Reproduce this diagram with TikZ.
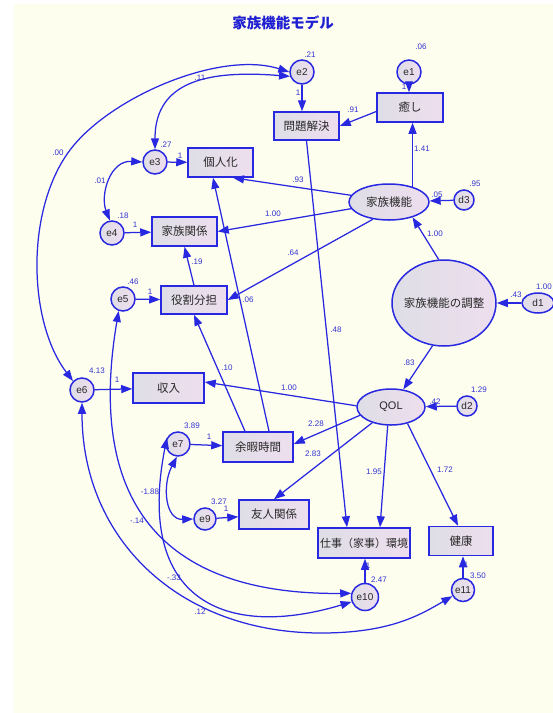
\documentclass[tikz,border=0pt]{standalone}
\usepackage{fontspec}
\setmainfont{Liberation Sans}
\newfontfamily\jpf{Noto Sans CJK JP}
\usetikzlibrary{arrows.meta,shapes.geometric}
\definecolor{bgc}{RGB}{254,254,238}
\definecolor{bl}{RGB}{40,40,225}
\definecolor{lbc}{RGB}{50,50,210}
\definecolor{ttl}{RGB}{30,30,210}
\definecolor{nL}{RGB}{222,222,230}
\definecolor{nR}{RGB}{238,222,238}
\definecolor{txt}{RGB}{40,40,40}
\newcommand{\mylab}[3]{\node[lab] (#1) at (#2) {#3};}
\begin{document}
\begin{tikzpicture}[x=1pt,y=-1pt,
  >={Triangle[length=11pt,width=8pt]},
  box/.style={rectangle,draw=bl,line width=1.5pt,left color=nL,right color=nR,minimum height=29pt,inner sep=0pt,text=txt,font=\jpf\fontsize{11.5}{13}\selectfont},
  errc/.style={circle,draw=bl,line width=1.5pt,left color=nL,right color=nR,minimum size=24pt,inner sep=0pt,text=txt,font=\fontsize{10}{12}\selectfont},
  lat/.style={ellipse,draw=bl,line width=1.5pt,left color=nL,right color=nR,inner sep=0pt,text=txt,font=\jpf\fontsize{11.5}{13}\selectfont},
  pth/.style={draw=bl,line width=1.25pt,->},
  cov/.style={draw=bl,line width=1.25pt,<->},
  lab/.style={text=lbc,font=\fontsize{8}{9}\selectfont,inner sep=0pt},
]
\useasboundingbox (0,0) rectangle (553,713);
\fill[white] (0,0) rectangle (553,713);
\fill[bgc] (14,4) rectangle (553,713);

\node[font=\jpf\bfseries\fontsize{14.5}{16}\selectfont,text=ttl] (title) at (283,23) {家族機能モデル};

% nodes
\node[errc] (e1) at (409,72) {e1};
\node[box,minimum width=66pt] (iyashi) at (410,107.5) {癒し};
\node[errc] (e2) at (302,72) {e2};
\node[box,minimum width=65pt,minimum height=28pt] (mondai) at (306.5,126) {問題解決};
\node[errc] (e3) at (155,162) {e3};
\node[box,minimum width=65pt] (kojin) at (220.5,162.5) {個人化};
\node[errc] (e4) at (112,233) {e4};
\node[box,minimum width=65pt] (kk) at (184.5,231.5) {家族関係};
\node[errc] (e5) at (123,299) {e5};
\node[box,minimum width=66pt,minimum height=28pt] (yaku) at (194,300) {役割分担};
\node[lat,minimum width=80pt,minimum height=36pt] (kazoku) at (389,202) {家族機能};
\node[errc,minimum size=20pt] (d3) at (464,200) {d3};
\node[lat,minimum width=104pt,minimum height=86pt] (chosei) at (444,303) {\makebox[0pt]{家族機能の調整}};
\node[lat,minimum width=32pt,minimum height=20pt,font=\fontsize{10}{12}\selectfont] (d1) at (538,303) {d1};
\node[errc] (e6) at (82,390) {e6};
\node[box,minimum width=71pt,minimum height=30pt] (shunyu) at (168.5,388) {収入};
\node[lat,minimum width=68pt,minimum height=36pt,font=\fontsize{11}{13}\selectfont] (qol) at (391,407) {QOL};
\node[errc,minimum size=20pt] (d2) at (467,406) {d2};
\node[errc] (e7) at (178,444) {e7};
\node[box,minimum width=70pt,minimum height=30pt] (yoka) at (258,447) {余暇時間};
\node[errc,minimum size=22pt] (e9) at (205,519) {e9};
\node[box,minimum width=70pt] (yujin) at (274,514.5) {友人関係};
\node[box,minimum width=92pt,minimum height=30pt,font=\jpf\fontsize{11}{13}\selectfont] (shigoto) at (364,543) {仕事（家事）環境};
\node[box,minimum width=64pt] (kenko) at (461,541) {健康};
\node[errc,minimum size=27pt] (e10) at (365,597) {e10};
\node[errc,minimum size=23pt] (e11) at (463,590) {e11};

% regression paths
\draw[pth] (e1.south) -- (e1.south |- iyashi.north);
\draw[pth] (e2.south) -- (e2.south |- mondai.north);
\draw[pth] ([yshift=-4pt]iyashi.west) -- (mondai.east);
\draw[pth] (kazoku.33) -- (kazoku.33 |- iyashi.south);
\draw[pth] (kazoku.170) -- ([xshift=12.5pt]kojin.south);
\draw[pth] (kazoku.190) -- (kk.east);
\draw[pth] (kazoku.227) -- (yaku.east);
\draw[pth] (mondai.south) -- ([xshift=-17pt]shigoto.north);
\draw[pth] (qol.260) -- ([xshift=16pt]shigoto.north);
\draw[pth] (qol.-45) -- ([xshift=-3pt]kenko.north);
\draw[pth] (qol.220) -- (yujin.north);
\draw[pth] (qol.195) -- ([yshift=3pt]yoka.east);
\draw[pth] (qol.178) -- ([yshift=6pt]shunyu.east);
\draw[pth] (chosei.97) -- (kazoku.-33);
\draw[pth] (chosei.-105) -- (qol.55);
\draw[pth] (d1) -- (chosei);
\draw[pth] (d2) -- (qol);
\draw[pth] (d3) -- (kazoku);
\draw[pth] ([xshift=-13pt]yoka.north) -- (yaku.south);
\draw[pth] ([xshift=11pt]yoka.north) -- ([xshift=-7.5pt]kojin.south);
\draw[pth] (yaku.north) -- (kk.south);
\draw[pth] (e3) -- (kojin);
\draw[pth] (e4) -- (kk);
\draw[pth] (e5) -- (yaku);
\draw[pth] (e6) -- (shunyu);
\draw[pth] (e7) -- (yoka);
\draw[pth] (e9) -- (yujin);
\draw[pth] (e10.north) -- (e10.north |- shigoto.south);
\draw[pth] (e11.north) -- (e11.north |- kenko.south);

% covariances
\draw[cov] (e2.west) .. controls (220,50) and (110,97) .. (70,150) .. controls (25,210) and (28,322) .. (e6.north west);
\draw[cov] (e2.200) .. controls (210,70) and (155,80) .. (e3.north);
\draw[cov] (e3.west) .. controls (110,160) and (100,195) .. (e4.100);
\draw[cov] (e5.250) .. controls (85,510) and (170,595) .. (e10.165);
\draw[cov] (e6.south) .. controls (82,540) and (180,633) .. (321,633) .. controls (390,633) and (420,615) .. (e11.210);
\draw[cov] (e7.150) .. controls (135,600) and (225,640) .. (e10.200);
\draw[cov] (e7.265) .. controls (162,485) and (165,520) .. (e9.west);

% labels
\mylab{l1}{421,47}{.06}
\mylab{l2}{404,87}{1}
\mylab{l3}{310,55}{.21}
\mylab{l4}{298,93}{1}
\mylab{l5}{353,110}{.91}
\mylab{l6}{422,149}{1.41}
\mylab{l7}{200,78}{.11}
\mylab{l8}{58,153}{.00}
\mylab{l9}{166,145}{.27}
\mylab{l10}{180,156}{1}
\mylab{l11}{298,180}{.93}
\mylab{l12}{100,181}{.01}
\mylab{l13}{123,216}{.18}
\mylab{l14}{135,225}{1}
\mylab{l15}{273,214}{1.00}
\mylab{l16}{197,262}{.19}
\mylab{l17}{133,282}{.46}
\mylab{l18}{150,292}{1}
\mylab{l19}{293,253}{.64}
\mylab{l20}{248,300}{.06}
\mylab{l21}{437,195}{.05}
\mylab{l22}{475,184}{.95}
\mylab{l23}{435,234}{1.00}
\mylab{l24}{516,295}{.43}
\mylab{l25}{544,287}{1.00}
\mylab{l26}{336,330}{.48}
\mylab{l27}{409,363}{.83}
\mylab{l28}{435,402}{.42}
\mylab{l29}{479,390}{1.29}
\mylab{l30}{289,388}{1.00}
\mylab{l31}{316,424}{2.28}
\mylab{l32}{313,454}{2.83}
\mylab{l33}{374,472}{1.95}
\mylab{l34}{445,470}{1.72}
\mylab{l35}{97,371}{4.13}
\mylab{l36}{117,380}{1}
\mylab{l37}{227,368}{.10}
\mylab{l38}{192,426}{3.89}
\mylab{l39}{209,437}{1}
\mylab{l40}{150,492}{-1.88}
\mylab{l41}{219,502}{3.27}
\mylab{l42}{226,509}{1}
\mylab{l43}{137,521}{-.14}
\mylab{l44}{174,578}{-.33}
\mylab{l45}{200,612}{.12}
\mylab{l46}{368,566}{1}
\mylab{l47}{379,580}{2.47}
\mylab{l48}{466,565}{1}
\mylab{l49}{478,576}{3.50}
\end{tikzpicture}
\end{document}
